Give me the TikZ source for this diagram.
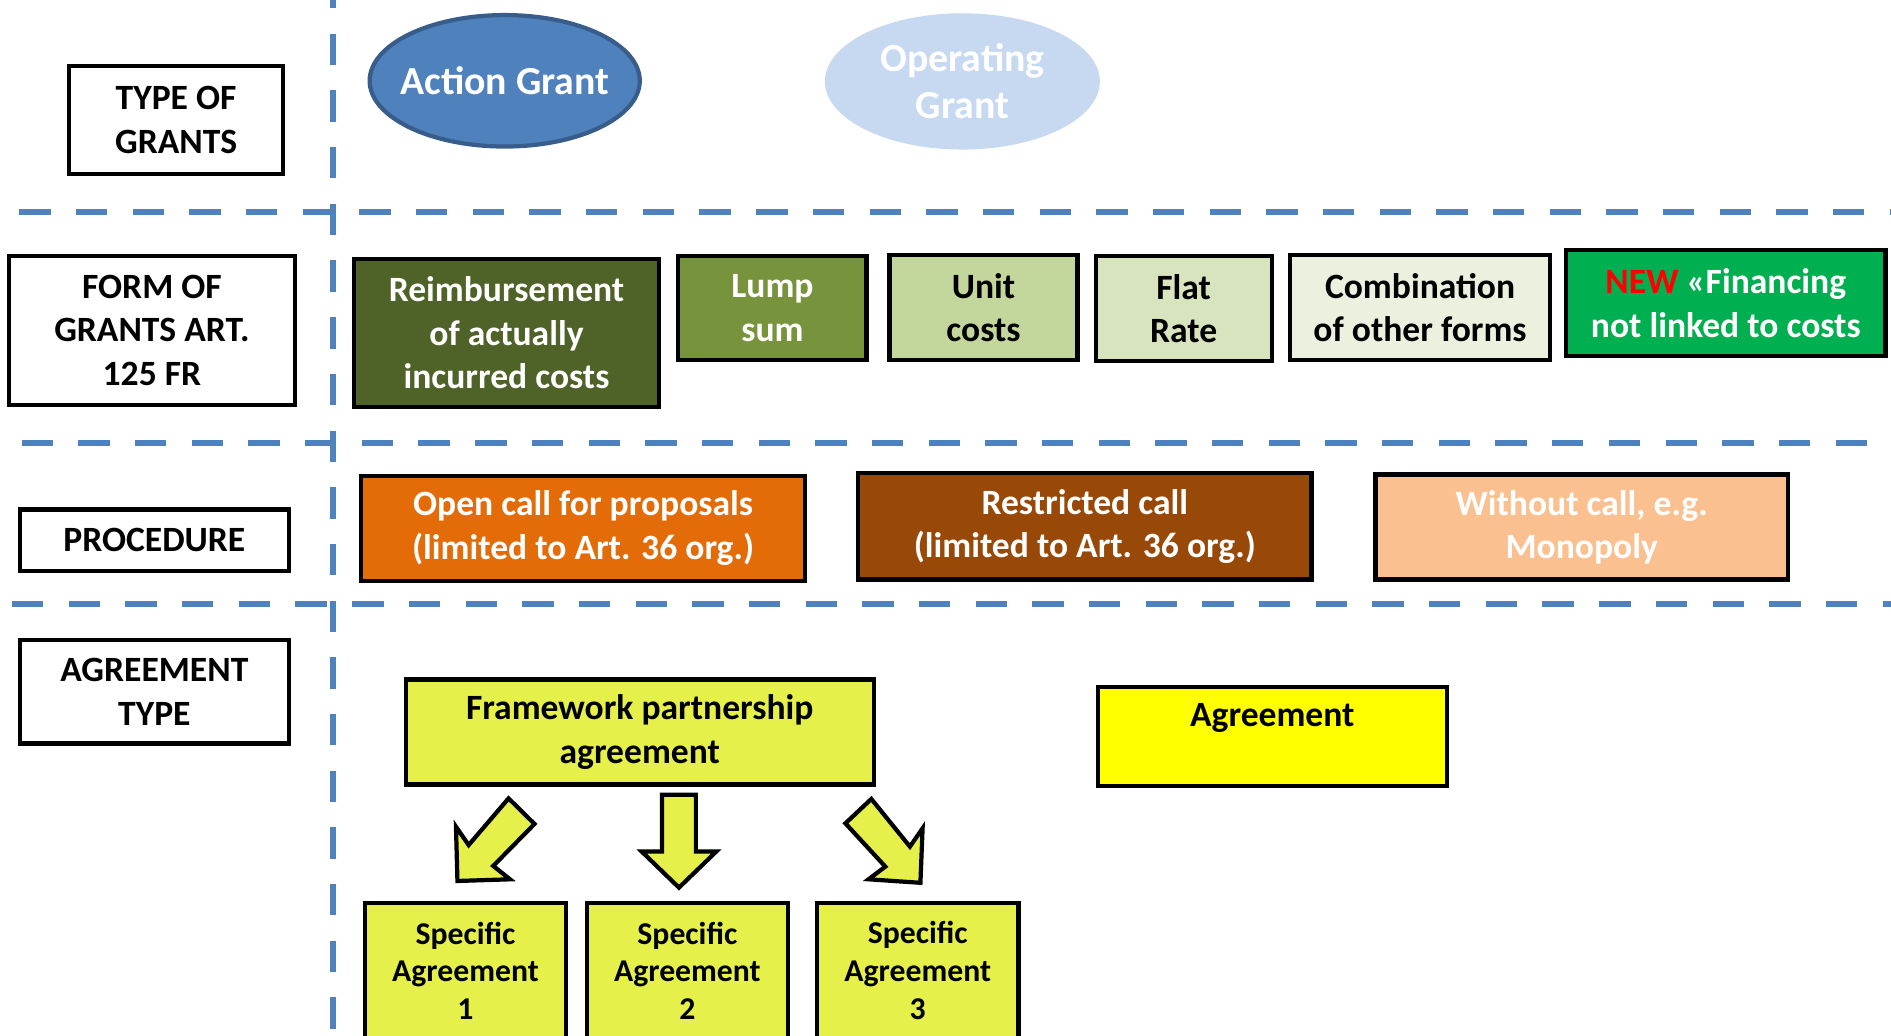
\documentclass[tikz,border=0pt]{standalone}
\usepackage{fontspec}
\setmainfont{Carlito}
\usetikzlibrary{shapes.geometric}
\definecolor{dashblue}{HTML}{4F81BD}
\definecolor{actfill}{HTML}{4F81BD}
\definecolor{actdraw}{HTML}{385D8A}
\definecolor{opfill}{HTML}{C6D9F1}
\definecolor{reimb}{HTML}{4F6228}
\definecolor{lump}{HTML}{77933C}
\definecolor{unit}{HTML}{C3D69B}
\definecolor{flat}{HTML}{D7E4BD}
\definecolor{comb}{HTML}{EBF1DE}
\definecolor{newg}{HTML}{00B050}
\definecolor{openc}{HTML}{E36C09}
\definecolor{restr}{HTML}{984807}
\definecolor{without}{HTML}{FAC090}
\definecolor{lime}{RGB}{229,241,74}
\definecolor{yel}{HTML}{FFFF00}
\begin{document}
\begin{tikzpicture}[x=1pt,y=-1pt,
  sepline/.style={draw=dashblue, line width=5pt, dash pattern=on 26pt off 21pt},
  bx/.style={draw=black, line width=3.5pt, align=center, inner sep=0pt,
    font=\bfseries\fontsize{29.5}{36}\selectfont},
  lbl/.style={bx, fill=white, text=black},
  spec/.style={bx, fill=lime, minimum width=167pt, minimum height=113pt,
    font=\bfseries\fontsize{26.3}{31.5}\selectfont},
  blockarrow/.style={draw=black, line width=3.5pt, fill=lime, line join=miter},
  grant/.style={ellipse, align=center, inner sep=0pt,
    font=\bfseries\fontsize{33}{39}\selectfont, text=white}
]
\useasboundingbox (0,0) rectangle (1568,859);

% separators
\draw[sepline] (276,-19) -- (276,875);
\draw[sepline] (16,176) -- (1580,176);
\draw[sepline] (18,367) -- (1580,367);
\draw[sepline] (10,501) -- (1580,501);

% left labels
\node[lbl, minimum width=177pt, minimum height=90pt] (type) at (146,99.5) {TYPE OF\\GRANTS};
\node[lbl, minimum width=237pt, minimum height=123pt] (form) at (126,274) {FORM OF\\GRANTS ART.\\125 FR};
\node[lbl, minimum width=223pt, minimum height=51pt] (proc) at (128,448) {PROCEDURE};
\node[lbl, minimum width=223pt, minimum height=86pt] (agtype) at (128,573.5) {AGREEMENT\\TYPE};

% grants
\node[grant, fill=actfill, draw=actdraw, line width=3.5pt, minimum width=224pt, minimum height=109pt] (action) at (418.5,67) {\makebox[0pt]{Action Grant}};
\node[grant, fill=opfill, minimum width=228pt, minimum height=113pt] (operating) at (798,67.5) {\makebox[0pt]{Operating}\\\makebox[0pt]{Grant}};

% forms
\node[bx, fill=reimb, text=white, minimum width=253pt, minimum height=123pt] (reimb) at (420,276) {Reimbursement\\of actually\\incurred costs};
\node[bx, fill=lump, text=white, minimum width=156pt, minimum height=86pt] (lump) at (640.5,255.5) {Lump\\sum};
\node[bx, fill=unit, text=black, minimum width=156pt, minimum height=87pt] (unit) at (815.5,255) {Unit\\costs};
\node[bx, fill=flat, text=black, minimum width=146pt, minimum height=87pt] (flat) at (981.5,256) {Flat\\Rate};
\node[bx, fill=comb, text=black, minimum width=216pt, minimum height=87pt] (comb) at (1177.5,255) {Combination\\of other forms};
\node[bx, fill=newg, text=white, minimum width=265pt, minimum height=88pt] (newf) at (1431,251.5) {{\color{red}NEW} «Financing\\not linked to costs};

% procedures
\node[bx, fill=openc, text=white, minimum width=368pt, minimum height=87pt] (open) at (483.5,438) {Open call for proposals\\(limited to Art. 36 org.)};
\node[bx, fill=restr, text=white, minimum width=376pt, minimum height=88pt] (restricted) at (899.5,436.5) {Restricted call\\(limited to Art. 36 org.)};
\node[bx, fill=without, text=white, minimum width=342pt, minimum height=87pt] (withoutc) at (1311.5,437) {Without call, e.g.\\Monopoly};

% agreements
\node[bx, fill=lime, text=black, minimum width=388pt, minimum height=87pt] (framework) at (530.5,607) {Framework partnership\\agreement};
\node[bx, fill=yel, minimum width=289pt, minimum height=82pt] (agreement) at (1055,610.5) {};
\node[font=\bfseries\fontsize{29.5}{36}\selectfont, inner sep=0pt] (agreementtext) at (1055,595) {Agreement};

\node[spec] (spec1) at (386,805) {Specific\\Agreement\\1};
\node[spec] (spec2) at (570,805) {Specific\\Agreement\\2};
\node[spec] (spec3) at (761,805) {Specific\\Agreement\\3};

% block arrows
\draw[blockarrow] (549,659) -- (577,659) -- (577,706) -- (594,706) -- (563,736) -- (532,706) -- (549,706) -- cycle;
\draw[blockarrow] (421.7,662) -- (443.2,683.2) -- (409,718) -- (422.9,729.1) -- (379.3,730.5) -- (378.1,685.5) -- (388.6,700.7) -- cycle;
\draw[blockarrow] (722.5,662.5) -- (701,682.7) -- (734.1,718.6) -- (720.2,729.1) -- (763.2,732) -- (765,686.8) -- (754.5,702) -- cycle;
\end{tikzpicture}
\end{document}
